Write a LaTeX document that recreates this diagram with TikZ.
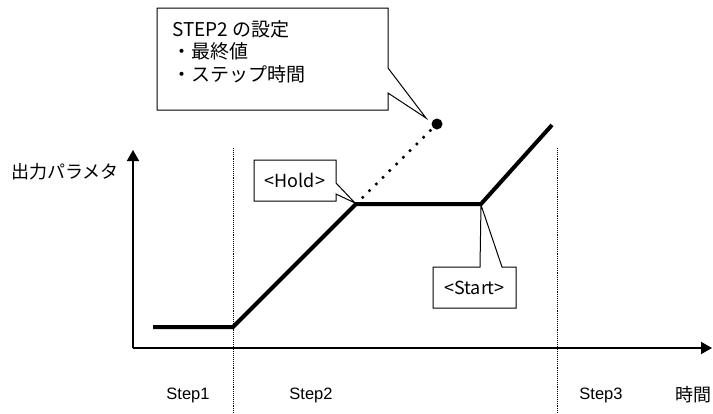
\documentclass[tikz,border=0pt]{standalone}
\usepackage{fontspec}
\setmainfont{Liberation Sans}
\newfontfamily\jpfont{Noto Sans CJK JP}
\usetikzlibrary{arrows.meta}

\tikzset{
  axisline/.style={line width=1.6pt, -{Triangle[length=11pt,width=12pt]}},
  graphline/.style={line width=4pt, line join=miter},
  boundline/.style={densely dotted, line width=0.9pt},
  calloutline/.style={line width=1pt, fill=white, line join=miter},
  jplabel/.style={font=\jpfont\fontsize{18}{20}\selectfont, inner sep=0pt},
  steplabel/.style={font=\fontsize{16.5}{18}\selectfont, inner sep=0pt},
}

\begin{document}
\begin{tikzpicture}[x=1pt,y=-1pt]
  \useasboundingbox (0,0) rectangle (713,413);

  % axes
  \coordinate (origin) at (133,348);
  \coordinate (ytop) at (133,150);
  \coordinate (xend) at (712,348);
  \draw[axisline] (origin) -- (ytop);
  \draw[axisline] (origin) -- (xend);

  % step boundaries
  \draw[boundline] (233,148) -- (233,413);
  \draw[boundline] (557,148) -- (557,413);

  % output curve
  \coordinate (p0) at (153,327);
  \coordinate (p1) at (233,327);
  \coordinate (hold) at (356,204);
  \coordinate (start) at (481,204);
  \coordinate (p4) at (552,125);
  \coordinate (target) at (437,124);
  \draw[graphline] (p0) -- (p1) -- (hold) -- (start) -- (p4);
  \draw[line width=3.5pt, line cap=round, dash pattern=on 0pt off 9.5pt] (hold) -- (target);
  \fill (target) circle (5.5);

  % callout: STEP2
  \draw[calloutline] (157,8) -- (388,8) -- (388,68) -- (426,118) -- (388,93)
    -- (388,110) -- (157,110) -- cycle;
  \node[font=\jpfont\fontsize{19}{22.5}\selectfont, align=left, anchor=north west,
    inner sep=0pt] (setting) at (172,20) {STEP2 の設定\\・最終値\\・ステップ時間};

  % callout: Hold
  \draw[calloutline] (254,160) -- (336,160) -- (336,183) -- (355,203) -- (336,194)
    -- (336,201) -- (254,201) -- cycle;
  \node[jplabel] (holdlabel) at (295,180) {<Hold>};

  % callout: Start
  \draw[calloutline] (433,267) -- (480,267) -- (481,205) -- (502,267) -- (516,267)
    -- (516,308) -- (433,308) -- cycle;
  \node[jplabel] (startlabel) at (474.5,288) {<Start>};

  % labels
  \node[jplabel] (ylabel) at (65,172) {出力パラメタ};
  \node[steplabel] (step1) at (188,395) {Step1};
  \node[steplabel] (step2) at (311,395) {Step2};
  \node[steplabel] (step3) at (601,395) {Step3};
  \node[jplabel] (xlabel) at (693,395) {時間};
\end{tikzpicture}
\end{document}
